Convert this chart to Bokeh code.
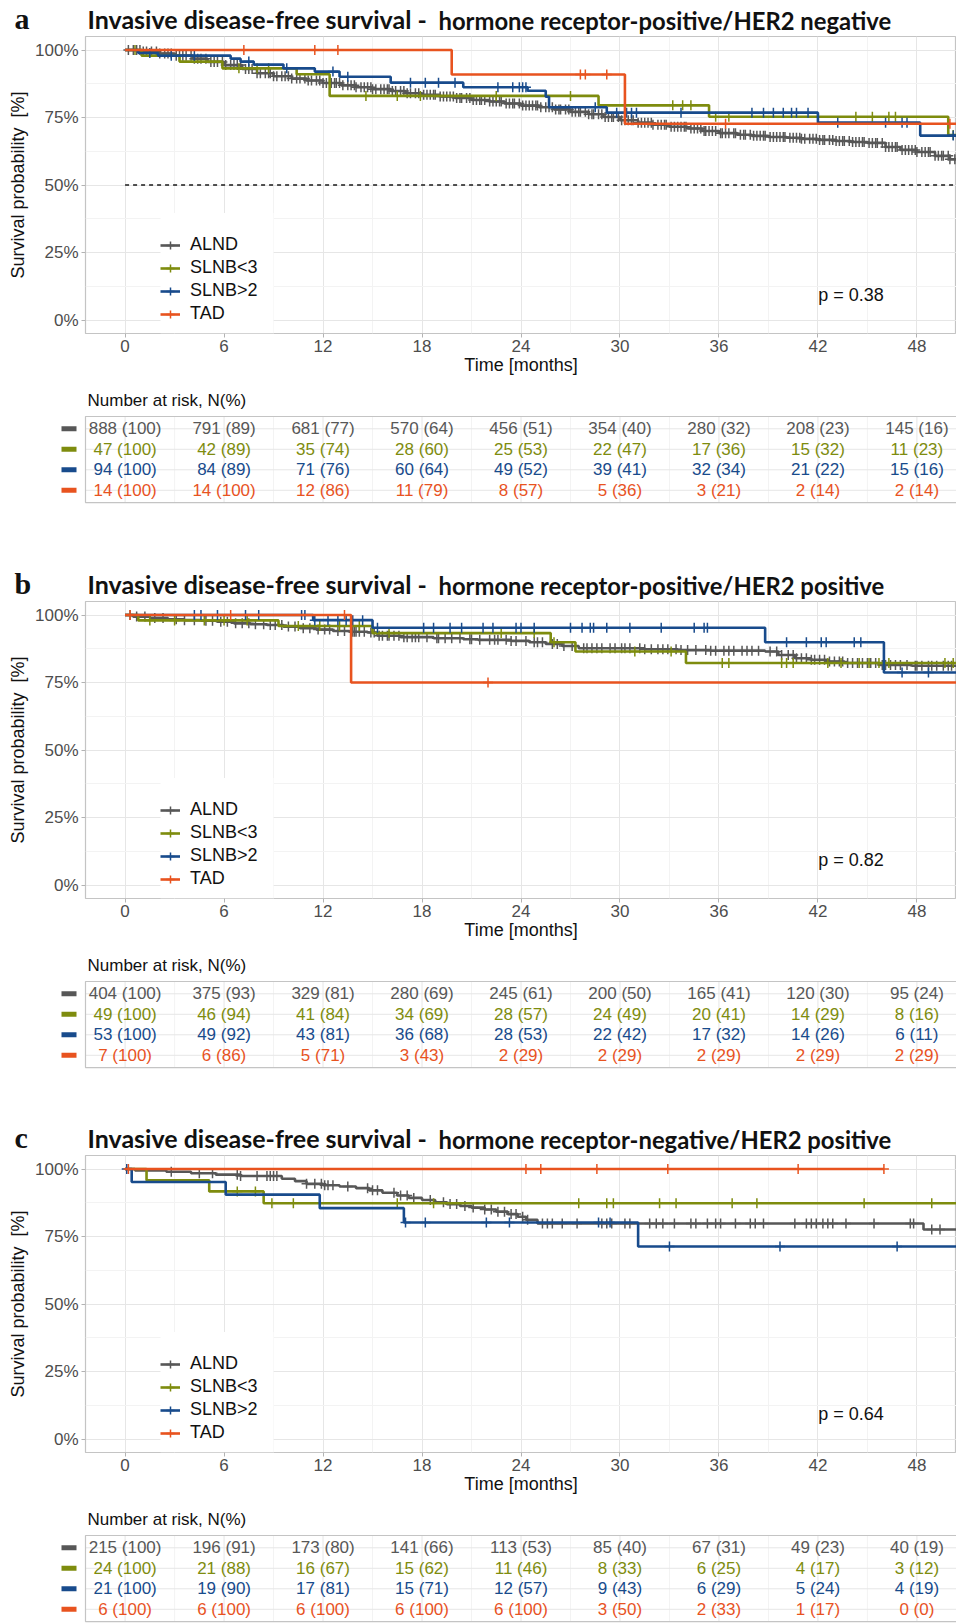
import numpy as np
from bokeh.plotting import figure
from bokeh.models import Range1d, FixedTicker, NumeralTickFormatter, Label, Legend, LegendItem, ColumnDataSource
from bokeh.layouts import column
from bokeh.embed import file_html
from bokeh.resources import INLINE
from bokeh.core.properties import value

# ---------------------------------------------------------------- data
groups = ["ALND", "SLNB<3", "SLNB>2", "TAD"]
colors = ["#575757", "#7e8c0e", "#184b8c", "#e8531f"]
time_ticks = [0, 6, 12, 18, 24, 30, 36, 42, 48]
time_minor = [3, 9, 15, 21, 27, 33, 39, 45]
surv_ticks = [0, 0.25, 0.5, 0.75, 1.0]
surv_minor = [0.125, 0.375, 0.625, 0.875]

titles_left = ["Invasive disease-free survival -"] * 3
titles_right = ["hormone receptor-positive/HER2 negative",
                "hormone receptor-positive/HER2 positive",
                "hormone receptor-negative/HER2 positive"]
panel_letters = ["a", "b", "c"]
pvalues = ["p = 0.38", "p = 0.82", "p = 0.64"]

# ---- panel a : step times / survival / censor times
a_alnd_t = [0, 1.0, 2.1, 3.0, 4.1, 5.0, 6.0, 7.1, 8.0, 9.0, 10.1, 11.0, 12.0, 13.1, 14.0, 15.0, 16.1, 17.0,
            18.0, 19.1, 20.0, 21.0, 22.1, 23.0, 24.0, 25.1, 26.0, 27.0, 28.1, 29.0, 30.0, 31.1, 32.0, 33.0,
            34.1, 35.0, 36.0, 37.1, 38.0, 39.0, 40.1, 41.0, 42.0, 43.1, 44.0, 45.0, 46.1, 47.0, 48.0, 49.1, 50.0]
a_alnd_s = [1.0, .994, .987, .979, .968, .956, .944, .930, .914, .903, .894, .887, .878, .869, .862, .855, .848,
            .840, .834, .828, .822, .815, .809, .802, .794, .788, .780, .771, .762, .752, .740, .731, .723, .716,
            .709, .700, .692, .686, .682, .678, .675, .671, .667, .663, .659, .656, .641, .630, .622, .608, .595]
a_alnd_c = [0.2, 0.5, 0.9, 1.3, 1.6, 2.1, 2.4, 2.8, 3.3, 3.7, 4.0, 4.4, 4.9, 5.2, 5.6, 6.1, 6.4, 6.8, 7.3, 7.7,
            8.0, 8.5, 8.8, 9.2, 9.7, 10.1, 10.4, 10.9, 11.3, 11.6, 12.0, 12.5, 12.8, 13.2, 13.7, 14.0, 14.5,
            14.9, 15.2, 15.7, 16.0, 16.4, 16.9, 17.3, 17.6, 18.1, 18.5, 18.8, 19.3, 19.7, 20.1, 20.4, 20.9,
            21.3, 21.6, 22.1, 22.5, 22.8, 23.3, 23.6, 24.1, 24.5, 24.9, 25.2, 25.7, 26.1, 26.4, 26.9, 27.3,
            27.6, 28.1, 28.4, 28.9, 29.3, 29.6, 30.1, 30.5, 30.8, 31.3, 31.7, 32.0, 32.5, 32.8, 33.3, 33.7,
            34.0, 34.5, 34.9, 35.2, 35.6, 36.1, 36.4, 36.9, 37.3, 37.6, 38.1, 38.5, 38.8, 39.3, 39.7, 40.0,
            40.5, 40.9, 41.2, 41.7, 42.1, 42.4, 42.9, 43.3, 43.6, 44.1, 44.5, 44.8, 45.3, 45.6, 46.1, 46.5,
            46.8, 47.3, 47.7, 48.0, 48.5, 48.8, 49.3, 49.6, 50.0, 50.3,
            0.7, 1.1, 1.9, 2.6, 3.1, 3.5, 4.2, 4.6, 5.4, 5.9, 6.6, 7.0, 7.5, 8.2, 8.7, 9.0, 9.5, 9.9, 10.6,
            11.1, 11.8, 12.2, 12.7, 13.0, 13.5, 13.9, 14.3, 14.7, 15.0, 15.5, 15.9, 16.2, 16.7, 17.1, 17.8,
            18.3, 18.7, 19.1, 19.5, 19.9, 20.3, 20.7, 21.1, 21.5, 21.8, 22.3, 22.7, 23.1, 23.5, 23.9, 24.3,
            24.7, 25.0, 25.5, 25.9, 26.3, 26.7, 27.1, 27.5, 27.9, 28.3, 28.7, 29.1, 29.5, 29.9, 30.3, 30.7,
            31.1, 31.5, 31.9, 32.3, 32.7, 33.1, 33.5, 33.9, 34.3, 34.7, 35.1, 35.4, 35.8, 36.2, 36.6, 37.0,
            37.5, 37.9, 38.3, 38.7, 39.1, 39.5, 39.9, 40.3, 40.7, 41.0, 41.5, 41.9, 42.3, 42.7, 43.1, 43.5,
            43.9, 44.3, 44.7, 45.1, 45.5, 45.9, 46.3, 46.7, 47.1, 47.5, 47.9, 48.3, 48.7, 49.1, 49.5, 49.9]
a_slnb3_t = [0, 1.0, 3.3, 5.9, 10.4, 12.4, 28.7, 35.4, 49.9]
a_slnb3_s = [1.0, 0.979, 0.957, 0.932, 0.910, 0.830, 0.795, 0.753, 0.685]
a_slnb3_c = [0.6, 6.9, 8.0, 8.7, 14.6, 16.5, 17.9, 22.5, 27.0, 33.2, 33.8, 34.3, 35.8, 36.6, 44.3, 45.3,
             46.3, 46.7, 50.2]
a_slnb2_t = [0, 0.8, 2.0, 6.4, 7.0, 7.8, 9.6, 11.5, 13.0, 16.1, 20.5, 24.4, 25.5, 25.7, 29.2, 42.0, 48.2]
a_slnb2_s = [1.0, 0.989, 0.979, 0.968, 0.957, 0.946, 0.932, 0.920, 0.901, 0.879, 0.862, 0.849, 0.827,
             0.788, 0.768, 0.731, 0.683]
a_slnb2_c = [1.5, 2.8, 4.2, 7.5, 9.8, 12.6, 13.5, 17.3, 18.2, 19.0, 20.0, 22.6, 23.5, 23.9, 24.1, 24.3, 28.5,
             29.8, 30.4, 30.7, 31.0, 33.7, 38.0, 38.7, 39.3, 39.9, 40.4, 40.7, 41.4, 43.2, 46.1, 47.1, 47.4, 50.2]
a_tad_t = [0, 19.8, 30.3]
a_tad_s = [1.0, 0.909, 0.727]
a_tad_c = [7.2, 11.5, 12.9, 27.6, 27.9, 29.2, 36.4, 50.0]
a_end = [50.4, 50.4, 50.4, 50.4]

# ---- panel b
b_alnd_t = [0, 0.5, 1.5, 2.6, 3.6, 4.6, 5.6, 6.6, 7.6, 8.6, 9.6, 10.6, 11.6, 12.6, 13.6, 14.7, 15.3, 16.7,
            18.7, 20.5, 21.4, 23.4, 24.5, 25.5, 26.5, 27.5, 31.5, 33.5, 35.5, 38.8, 39.6, 40.6, 41.6, 42.6,
            43.6, 45.7, 47.7]
b_alnd_s = [1.0, 0.994, 0.989, 0.984, 0.981, 0.979, 0.975, 0.969, 0.966, 0.963, 0.957, 0.951, 0.946, 0.941,
            0.938, 0.935, 0.923, 0.918, 0.914, 0.910, 0.908, 0.904, 0.899, 0.893, 0.885, 0.877, 0.873, 0.870,
            0.868, 0.865, 0.852, 0.840, 0.834, 0.828, 0.822, 0.815, 0.812]
b_alnd_c = [0.3, 0.7, 1.2, 1.8, 2.3, 3.1, 3.6, 4.2, 4.9, 5.3, 5.8, 6.2, 6.7, 7.1, 7.5, 7.9, 8.4, 8.8, 9.1, 9.5,
            9.9, 10.3, 10.8, 11.2, 11.7, 12.1, 12.4, 12.9, 13.3, 13.8, 14.2, 14.5, 15.1, 15.6, 15.9, 16.3,
            16.9, 17.4, 17.8, 18.3, 18.9, 19.4, 19.8, 20.3, 20.9, 21.5, 22.1, 22.6, 23.1, 23.7, 24.3, 24.8,
            25.3, 25.9, 26.6, 27.1, 27.8, 28.3, 28.9, 29.4, 30.1, 30.6, 31.2, 31.9, 32.3, 32.9, 33.4, 34.1,
            34.6, 35.2, 35.8, 36.3, 36.9, 37.4, 38.0, 38.4, 39.1, 39.5, 40.2, 40.7, 41.3, 41.8, 42.4, 43.0,
            43.5, 44.1, 44.7, 45.2, 45.9, 46.4, 47.0, 47.4, 47.9, 48.3, 48.7, 49.2, 49.6, 50.1,
            13.9, 14.0, 14.9, 15.4, 16.0, 16.6, 17.1, 17.6, 19.0, 21.0, 22.4, 23.4, 25.0, 26.2, 28.0, 28.6,
            29.7, 30.3, 31.5, 32.6, 33.7, 35.5, 36.6, 37.7, 39.8, 40.5, 41.0, 41.6, 42.1, 42.7, 43.3, 43.8,
            44.4, 45.0, 45.5, 46.1, 46.7, 48.0, 48.9, 49.9]
b_slnb3_t = [0, 0.8, 9.3, 15.0, 25.8, 27.3, 34.0]
b_slnb3_s = [1.0, 0.980, 0.959, 0.933, 0.899, 0.865, 0.822]
b_slnb3_c = [1.5, 3.0, 4.8, 6.0, 7.4, 10.5, 11.8, 13.0, 14.2, 16.0, 22.8, 24.8, 26.0, 30.9, 33.1, 36.2, 36.6,
             39.8, 40.1, 40.5, 42.6, 43.4, 44.5, 45.1, 45.7, 46.3, 49.7, 50.2]
b_slnb2_t = [0, 11.4, 15.0, 38.8, 46.0]
b_slnb2_s = [1.0, 0.981, 0.953, 0.899, 0.787]
b_slnb2_c = [4.2, 4.6, 5.6, 7.3, 8.1, 10.7, 10.9, 11.5, 12.3, 12.9, 13.4, 13.8, 14.4, 15.3, 18.1, 18.7, 19.7,
             20.4, 21.7, 22.3, 23.7, 24.0, 24.8, 27.0, 27.7, 28.2, 28.4, 29.2, 30.6, 32.5, 34.5, 35.1, 35.3,
             40.1, 41.3, 42.2, 42.5, 44.2, 44.6, 47.1, 48.7]
b_tad_t = [0, 13.7]
b_tad_s = [1.0, 0.75]
b_tad_c = [0.3, 6.4, 13.3, 22.0]
b_end = [50.4, 50.4, 50.4, 50.4]

# ---- panel c
c_alnd_t = [0, 0.6, 2.5, 4.0, 5.5, 7.0, 9.5, 10.3, 11.0, 12.0, 13.0, 14.0, 14.8, 15.6, 16.5, 17.2, 18.0,
            18.8, 19.5, 20.3, 21.0, 21.8, 22.5, 23.2, 23.8, 24.3, 25.0, 48.4]
c_alnd_s = [1.0, 0.995, 0.990, 0.984, 0.979, 0.974, 0.964, 0.955, 0.945, 0.940, 0.935, 0.929, 0.921, 0.912,
            0.902, 0.893, 0.885, 0.877, 0.870, 0.863, 0.857, 0.850, 0.842, 0.833, 0.823, 0.812, 0.798, 0.776]
c_alnd_c = [2.8, 4.5, 5.3, 6.8, 7.0, 8.0, 8.6, 8.8, 9.0, 9.2, 11.0, 11.5, 11.9, 12.1, 12.3, 12.6, 13.5, 14.7,
            15.0, 15.3, 16.3, 16.7, 17.1, 17.5, 18.5, 19.3, 19.7, 20.1, 20.6, 21.1, 21.8, 22.2, 22.6, 23.0,
            23.4, 23.7, 24.1, 24.4, 25.3, 25.6, 25.9, 26.5, 27.4, 28.9, 29.2, 29.5, 30.3, 30.6, 31.8, 32.2,
            32.6, 33.3, 34.3, 34.6, 35.3, 35.8, 36.1, 37.0, 37.9, 38.2, 38.7, 40.6, 41.3, 41.6, 41.9, 42.3,
            42.6, 42.9, 43.7, 45.4, 47.6, 47.8, 48.9, 49.4]
c_slnb3_t = [0, 1.3, 5.1, 8.4]
c_slnb3_s = [1.0, 0.958, 0.917, 0.873]
c_slnb3_c = [6.8, 7.9, 8.9, 10.2, 16.5, 18.7, 27.5, 29.2, 29.6, 32.4, 33.4, 36.8, 38.3, 44.8, 48.9]
c_slnb2_t = [0, 0.4, 6.1, 11.8, 16.9, 31.1]
c_slnb2_s = [1.0, 0.952, 0.905, 0.855, 0.802, 0.713]
c_slnb2_c = [0.1, 17.0, 18.2, 21.9, 23.3, 28.7, 29.4, 33.0, 39.7, 46.8]
c_tad_t = [0]
c_tad_s = [1.0]
c_tad_c = [0.2, 24.3, 25.2, 28.6, 32.9, 40.8, 46.0]
c_end = [50.4, 50.4, 50.4, 46.0]

# ---- numbers at risk (N and %) at the time ticks
a_risk_n = [[888, 791, 681, 570, 456, 354, 280, 208, 145],
            [47, 42, 35, 28, 25, 22, 17, 15, 11],
            [94, 84, 71, 60, 49, 39, 32, 21, 15],
            [14, 14, 12, 11, 8, 5, 3, 2, 2]]
a_risk_p = [[100, 89, 77, 64, 51, 40, 32, 23, 16],
            [100, 89, 74, 60, 53, 47, 36, 32, 23],
            [100, 89, 76, 64, 52, 41, 34, 22, 16],
            [100, 100, 86, 79, 57, 36, 21, 14, 14]]
b_risk_n = [[404, 375, 329, 280, 245, 200, 165, 120, 95],
            [49, 46, 41, 34, 28, 24, 20, 14, 8],
            [53, 49, 43, 36, 28, 22, 17, 14, 6],
            [7, 6, 5, 3, 2, 2, 2, 2, 2]]
b_risk_p = [[100, 93, 81, 69, 61, 50, 41, 30, 24],
            [100, 94, 84, 69, 57, 49, 41, 29, 16],
            [100, 92, 81, 68, 53, 42, 32, 26, 11],
            [100, 86, 71, 43, 29, 29, 29, 29, 29]]
c_risk_n = [[215, 196, 173, 141, 113, 85, 67, 49, 40],
            [24, 21, 16, 15, 11, 8, 6, 4, 3],
            [21, 19, 17, 15, 12, 9, 6, 5, 4],
            [6, 6, 6, 6, 6, 3, 2, 1, 0]]
c_risk_p = [[100, 91, 80, 66, 53, 40, 31, 23, 19],
            [100, 88, 67, 62, 46, 33, 25, 17, 12],
            [100, 90, 81, 71, 57, 43, 29, 24, 19],
            [100, 100, 100, 100, 100, 50, 33, 17, 0]]

panels = [
    dict(curves=[(a_alnd_t, a_alnd_s, a_alnd_c), (a_slnb3_t, a_slnb3_s, a_slnb3_c),
                 (a_slnb2_t, a_slnb2_s, a_slnb2_c), (a_tad_t, a_tad_s, a_tad_c)],
         end=a_end, risk_n=a_risk_n, risk_p=a_risk_p, median=True, tbl_h=184),
    dict(curves=[(b_alnd_t, b_alnd_s, b_alnd_c), (b_slnb3_t, b_slnb3_s, b_slnb3_c),
                 (b_slnb2_t, b_slnb2_s, b_slnb2_c), (b_tad_t, b_tad_s, b_tad_c)],
         end=b_end, risk_n=b_risk_n, risk_p=b_risk_p, median=False, tbl_h=173),
    dict(curves=[(c_alnd_t, c_alnd_s, c_alnd_c), (c_slnb3_t, c_slnb3_s, c_slnb3_c),
                 (c_slnb2_t, c_slnb2_s, c_slnb2_c), (c_tad_t, c_tad_s, c_tad_c)],
         end=c_end, risk_n=c_risk_n, risk_p=c_risk_p, median=False, tbl_h=123),
]

# ---------------------------------------------------------------- geometry / style
W = 956
FRAME_L = 85
X0, X1 = -2.4, 50.4
PXM = (W - FRAME_L) / (X1 - X0)        # pixels per month
XT0 = X0 - FRAME_L / PXM               # table frame starts at the canvas left edge
TITLE_H = 35
KM_H = 346
U = 20.5                               # table row height in px
SANS = "Liberation Sans"
GRID_MAJ = "#e6e6e6"
GRID_MIN = "#f3f3f3"
BORDER = "#c4c4c4"


def step_at(t, s, c):
    t = np.asarray(t, dtype=float)
    s = np.asarray(s, dtype=float)
    idx = np.searchsorted(t, np.asarray(c, dtype=float), side="right") - 1
    return s[np.clip(idx, 0, len(s) - 1)]


def title_fig(letter, left, right):
    p = figure(width=W, height=TITLE_H, x_range=Range1d(0, W), y_range=Range1d(TITLE_H, 0),
               x_axis_location=None, y_axis_location=None, output_backend="svg",
               toolbar_location=None, min_border=0, frame_align=False)
    p.grid.visible = False
    p.outline_line_color = None
    # y measured downward from the top of the strip
    p.text(x=[14], y=[18], text=[letter], text_font=value("Liberation Serif"), text_font_style="bold",
           text_font_size=value("30px"), text_color="#111111", text_baseline="middle")
    p.text(x=[87], y=[18], text=[left], text_font=value("Lato"), text_font_style="bold",
           text_font_size=value("25px"), text_color="#111111", text_baseline="middle")
    p.text(x=[438], y=[20.5], text=[right], text_font=value("Lato"), text_font_style="bold",
           text_font_size=value("23.8px"), text_color="#111111", text_baseline="middle")
    return p


def km_fig(panel, pval):
    p = figure(width=W, height=KM_H, x_range=Range1d(X0, X1), y_range=Range1d(-0.05, 1.05),
               output_backend="svg", toolbar_location=None, frame_align=False,
               min_border_left=FRAME_L, min_border_right=0, min_border_top=1, min_border_bottom=48)
    p.outline_line_color = BORDER
    p.outline_line_width = 1.2
    p.xaxis.ticker = FixedTicker(ticks=time_ticks, minor_ticks=time_minor)
    p.yaxis.ticker = FixedTicker(ticks=surv_ticks, minor_ticks=surv_minor)
    p.yaxis.formatter = NumeralTickFormatter(format="0%")
    for ax in (p.xaxis, p.yaxis):
        ax.axis_line_color = None
        ax.major_tick_line_color = "#b3b3b3"
        ax.major_tick_out = 4
        ax.major_tick_in = 0
        ax.minor_tick_line_color = None
        ax.major_label_text_font = SANS
        ax.major_label_text_font_size = "17px"
        ax.major_label_text_color = "#4d4d4d"
        ax.axis_label_text_font = SANS
        ax.axis_label_text_font_style = "normal"
        ax.axis_label_text_font_size = "18px"
        ax.axis_label_text_color = "#111111"
    p.xaxis.axis_label = "Time [months]"
    p.xaxis.major_label_standoff = 2
    p.xaxis.axis_label_standoff = 0
    p.yaxis.axis_label = "Survival probability \u00a0[%]"
    p.yaxis.major_label_standoff = 3
    p.yaxis.axis_label_standoff = 4
    for g in (p.xgrid, p.ygrid):
        g.grid_line_color = GRID_MAJ
        g.minor_grid_line_color = GRID_MIN
        g.grid_line_width = 1
        g.minor_grid_line_width = 1

    # white legend background (covers grid, below curves)
    p.quad(left=[X0 + 75 / PXM], right=[X0 + 188 / PXM], bottom=[-0.05], top=[1.05 - 176.5 / 270],
           fill_color="white", line_color=None)

    if panel["median"]:
        p.segment(x0=[0], x1=[X1], y0=[0.5], y1=[0.5], line_color="#1a1a1a", line_width=1.4,
                  line_dash="4 4")

    items = []
    for (t, s, c), end, name, col in zip(panel["curves"], panel["end"], groups, colors):
        xs = list(t) + [end]
        ys = list(s) + [s[-1]]
        lr = p.step(xs, ys, mode="after", line_color=col, line_width=2.6)
        cs = sorted(c)
        sr = p.scatter(cs, step_at(t, s, cs), marker="cross", size=10, line_color=col, line_width=1.5)
        items.append(LegendItem(label=name, renderers=[lr, sr]))

    leg = Legend(items=items, location=(75, 9), padding=8, spacing=2, glyph_width=20, glyph_height=20,
                 label_height=20, label_standoff=10, label_text_font=SANS, label_text_font_size="18px",
                 label_text_color="#111111", background_fill_alpha=0, border_line_color=None, margin=0)
    p.add_layout(leg)

    p.add_layout(Label(x=44.0, y=0.093, text=pval, text_font=SANS, text_font_size="18px",
                       text_color="#111111", text_align="center", text_baseline="middle"))
    return p


def table_fig(panel):
    h = panel["tbl_h"]
    y_top = 4.6 + 35 / U
    y_bot = y_top - h / U
    p = figure(width=W, height=h, x_range=Range1d(XT0, X1), y_range=Range1d(y_bot, y_top),
               x_axis_location=None, y_axis_location=None, output_backend="svg",
               toolbar_location=None, min_border=0, frame_align=False)
    p.grid.visible = False
    p.outline_line_color = None

    # grid inside the table box
    p.segment(x0=time_minor, x1=time_minor, y0=[0.4] * len(time_minor), y1=[4.6] * len(time_minor),
              line_color=GRID_MIN, line_width=1)
    p.segment(x0=time_ticks, x1=time_ticks, y0=[0.4] * len(time_ticks), y1=[4.6] * len(time_ticks),
              line_color=GRID_MAJ, line_width=1)
    rows = [4, 3, 2, 1]
    p.segment(x0=[X0] * 4, x1=[X1] * 4, y0=rows, y1=rows, line_color=GRID_MAJ, line_width=1)
    p.quad(left=[X0], right=[X1 + 1], bottom=[0.4], top=[4.6], fill_color=None, line_color=BORDER,
           line_width=1.2)

    xs, ys, txt, cols = [], [], [], []
    for r, ns, ps, col in zip(rows, panel["risk_n"], panel["risk_p"], colors):
        for tt, n, pc in zip(time_ticks, ns, ps):
            xs.append(tt)
            ys.append(r)
            txt.append(f"{n} ({pc})")
            cols.append(col)
    src = ColumnDataSource(dict(x=xs, y=ys, text=txt, color=cols))
    p.text(x="x", y="y", text="text", text_color="color", source=src, text_font=value(SANS),
           text_font_size=value("17px"), text_align="center", text_baseline="middle")

    # colour keys left of the table
    kx0 = XT0 + 61 / PXM
    kx1 = XT0 + 76 / PXM
    p.segment(x0=[kx0] * 4, x1=[kx1] * 4, y0=rows, y1=rows, line_color=colors, line_width=5)

    p.text(x=[X0 + 2 / PXM], y=[4.6 + 16 / U], text=["Number at risk, N(%)"], text_font=value(SANS),
           text_font_size=value("17px"), text_color="#111111", text_baseline="middle")
    return p


children = []
for i, panel in enumerate(panels):
    children.append(title_fig(panel_letters[i], titles_left[i], titles_right[i]))
    children.append(km_fig(panel, pvalues[i]))
    children.append(table_fig(panel))

layout = column(*children, spacing=0)
open("out.html", "w").write(file_html(layout, INLINE))
